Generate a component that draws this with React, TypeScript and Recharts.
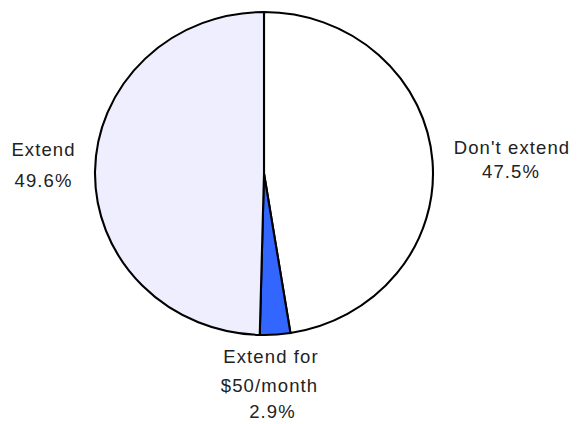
import React from "react";
import { PieChart, Pie, Cell } from "recharts";

const categories = ["Don't extend", "Extend for $50/month", "Extend"];
const values = [47.5, 2.9, 49.6];
const colors = ["#ffffff", "#3366ff", "#eeeeff"];
const labelLines = [
  ["Don't extend", "47.5%"],
  ["Extend for", "$50/month", "2.9%"],
  ["Extend", "49.6%"],
];

const data = categories.map((name, i) => ({ name, value: values[i] }));

// label line placement relative to pie centre (style/layout)
const labelOffsets = [
  [
    [248, -19.5],
    [247, 4.5],
  ],
  [
    [7, 189.5],
    [5.5, 218],
    [8.5, 244.5],
  ],
  [
    [-220.5, -17.5],
    [-220.5, 13],
  ],
];

const CX = 264;
const CY = 173.5;
const RY = 161.5;
const RX = 169;

const renderLabel = (props: any) => {
  const { index, cx, cy } = props;
  const offs = labelOffsets[index];
  return (
    <g key={`lbl-${index}`}>
      {labelLines[index].map((t, j) => (
        <text
          key={j}
          x={cx + offs[j][0]}
          y={cy + offs[j][1]}
          textAnchor="middle"
          fill="#222"
          fontSize={18.5}
          letterSpacing={1.1}
          fontFamily="'Liberation Sans', Arial, sans-serif"
        >
          {t}
        </text>
      ))}
    </g>
  );
};

export default function App() {
  return (
    <div style={{ position: "absolute", left: 0, top: 0, width: 578, height: 424, background: "#fff" }}>
      <style>{`.recharts-pie-sector { transform: scaleX(${RX / RY}); transform-origin: ${CX}px ${CY}px; }`}</style>
      <PieChart width={578} height={424} margin={{ top: 0, right: 0, bottom: 0, left: 0 }}>
        <Pie
          data={data}
          dataKey="value"
          nameKey="name"
          cx={CX}
          cy={CY}
          outerRadius={RY}
          startAngle={90}
          endAngle={-270}
          stroke="#000"
          strokeWidth={2}
          label={renderLabel}
          labelLine={false}
          isAnimationActive={false}
        >
          {data.map((d, i) => (
            <Cell key={d.name} fill={colors[i]} />
          ))}
        </Pie>
      </PieChart>
    </div>
  );
}
